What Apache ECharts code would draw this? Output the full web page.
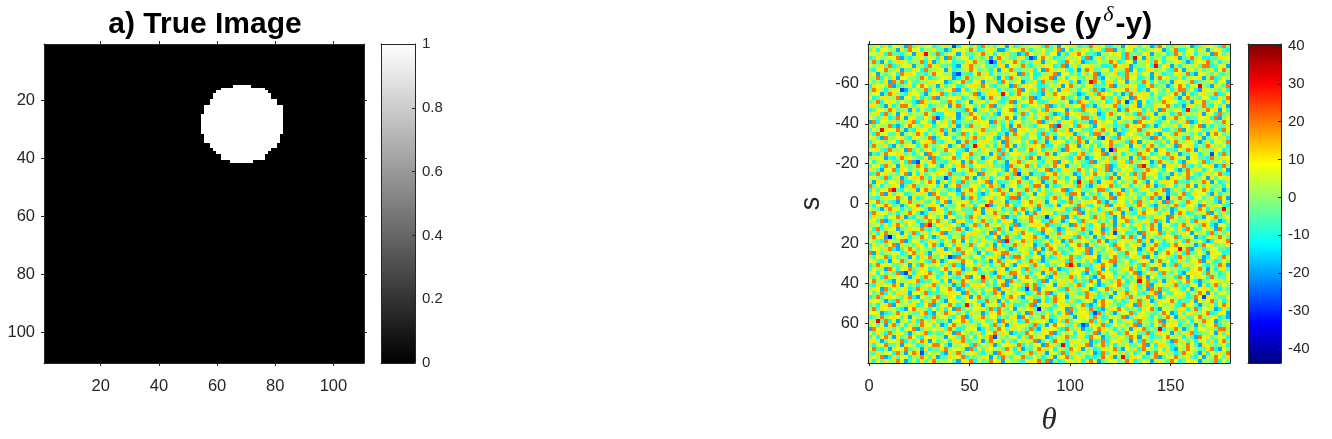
<!DOCTYPE html>
<html><head><meta charset="utf-8">
<style>html,body{margin:0;padding:0;background:#fff}#c{width:1332px;height:439px}</style>
<script src="https://cdn.jsdelivr.net/npm/echarts@6/dist/echarts.min.js"></script>
</head><body><div id="c"></div>
<script>
// a) True image: 110 x 110 binary, white disc given as [firstRow,lastRow,firstCol,lastCol]
const imageSize = 110;
const discSpans = [
 [15,15,66,71],[16,16,62,76],[17,17,60,77],[18,19,59,78],[20,21,58,80],[22,24,56,82],
 [25,31,55,82],[32,34,56,81],[35,36,58,80],[37,37,59,78],[38,38,60,77],[39,40,62,76],[41,41,65,72]
];
const imageTicks = [20,40,60,80,100];
const grayTicks = [0,0.2,0.4,0.6,0.8,1];
// b) Noise: estimated levels, one digit per cell, 2 degrees x 2 s units each
const noiseLevels = [-33,-27,-19,-11,-5,1,6,11,20,30];
const noiseRows = [
"556473665284756634575136647385546627345566738452665734487563355267746523864475562347665385",
"473665527486635574423766585346752246678535564478263557646738825467354566724583366475256743",
"665738443562776548356627445785636574423865574662537786443255676384546725563487466355728645",
"347556682435574663728456635547268654477352686534475663825746557384962745536672458563344776",
"584263577645583724656344768553627466853547725664386572344655873466255748635567423766845355",
"655748346672553867445326785564437726658435576634825746675533486772455638467253565748834662",
"436685572447638556627345786455362768445573628756643525874466375582634775564386256474573685",
"762545638776443586655274436857364556728463355782664537468255673485746627534467583266547445",
"558364726655487345667235845576642738564463577825636644758326557486634525867447356672583465",
"645472858364455776623568446725573864662457385546773624568537746625548736445276658345573662",
"376658244573686552745634677586435562847765334657268554673446825576633784552468736655427548",
"487535667246558374466827356475763544682657385462775536648324576685734266547358846327655473",
"566248754376642567835346658247775463586644327586665423574876635248567736445685273467558346",
"634775582664735482556673467425856347764582365576844635257684473562867545367742685546633758",
"458367646553287566448735625764674358256686434775562387645563478654726345587664352768456637",
"775426358864567345562784664537825566473466578235475668342576683546725447668534267558436472",
"346658745527364486675543862576473668255744638576625438767354562486673547285566374455867264",
"567384626745558643367725486554732666458364775423586674465237856645384762656348475572663845",
"654573486267446587355624768635447586263574658476325568847436552677548366425785634466738256",
"283665745578366426574835546766285473664557824653767354428656637545286674356447582365764586",
"746558324686547735664725385567446372685543766824556387642675534486768352465573764682535447",
"465376685243766455837246665784556348267657446385572664437586625347684566733548265674457386",
"538664472565873646725548364675763425866475383546677245638854662376545873266487554636278645",
"674285567437655824666357478546632785574466358725464783556267438655764428736655384672456573",
"356746638552467784356625843677546285664738452576635487264466875538726564473685576424736658",
"485573264766358545672468355764637486254577683365486725646357844562673785446528667354875563",
"667438556284647635586743256476558362744685635574286664537725486673455862764436587265547634",
"243586677453562876445637684556273846675534768525664378456682746355487634668572446735566384",
"576624358765447283566846735524678355647386245766543785236647485562738466534875626744385576",
"635757446382665784435762586447635526784665437582764654382567446738556624875463276658345647",
"466385627545873664256478536675744328566847354686725563447658236765486534627756843546672385",
"754266837645568435774265684735566427836554768243675586463758254667345876536642485773564462",
"348675546826374567658443576285663574865724436785565237468664527563848667355274686435756843",
"665483572467785364463756852647356684573266488574536625674453862675748556342766583456274667",
"527746658335646872564738455678263447685536724586646375584267736455864263577684436558726345",
"846355762478455663725684466537874256635748862534667485325766844673556872447635586264754536",
"374668543657268746553425786464738562655847364576823674456883566247357645682475364668735524",
"565827466345775286446638575324666847583562674455738862645367258746543668752446835766427355",
"443576685627346558764652487356747638825466553784672564358446827655637484266758543664573862",
"768454326685574463682566735446875624437685752664358546776832546647385564728365487646553274",
"536687452466835776254468573665247586346675854372665487436558267744686532574684376528557643",
"654258763547664286735564448627756354868463275566734824657356648572463768545236657486374465",
"387664535686423756648357446725685564736248576635447682645573866254378665467258734556826474",
"475536687243558664726645387465576824366785543466827356648574426875633547762864565342678456",
"664823554767345868564277436585463776245586634875246638567454726683556748362655473867644235",
"556374786465528346757642468358566473824567768344652857436685527364674585266437856548732664",
"738456624576684353667485246655738462775534686642375568447623586754364687255647386446572853",
"463685572648357466824553677546286355748664327558466743526684775634528566837445762656384547",
"586724466735586424673658745563472685436678542564775386462537664858362754476683556243675864",
"654387558246634775365862647475538264668573456376248556745862436675584726635647385564237668",
"375646827554763684256375584664726345857662448765536684274556387646752568433786655248674556",
"466578324687465536724685663547785642366548725864453676825546738655624786347664582573566443",
"827455663468574265776438655263467885546736246587345664827355764486635472568647384565276634",
"546683745526376854647285546637674253886456725347668435776254684536758264665438746552367486",
"674352668475564387246758663545268476635587424665738556473267884563466725856347546682753465",
"358766445627386556474832665746355864277648563546685724436786525574638466725483675664354872",
"465528736684576344685672458365747625663844577862345666835726445768536482766554437685263574",
"763645482573667854362584766445327658864536627485547663254876635546824657385463267764855346",
"546387566425748663575436826667458354276854663275568464732586647354687265445638726576385446",
"685743265576834467362758655484636728547665382646757354486265478635566843725764685324567756",
"437566872645356784655248367764536825674858346627554783664235768446735826657584436627358465",
"576284656734875463668523745546682775643458267664385547623668475536746285844675362567746354",
"645836477526658344567762854635487265766345858246637544876354626785643578264466735586274665",
"358467654783265568447635726854556378642674463587625566874345266748556837246657534862765446",
"766524385646637585426754666348572736554468273586647435652786645347585624766853447265684635",
"453678265577346824668535746725664857344682567536774568324686553476285764655743866425573687",
"584765643268755364736284556674838546265674754356628467584325768645537684266547735846652374",
"667234586654478326587646375524768654637285547463682566735847425668376544586237467556834662",
"345856764726553485664378246785663547728645586346755267648534665824767536458625744685567342",
"756483625647386574452668735564472865634857665237484665583746264576385546825674463658762455",
"564627846375586647236854575366484725766548352686644735276583465647825536486763545274668356",
"286755463668247565748534666237458647565483276664385572446876535462768454635586247366574885",
"647538566425678354467286545736685762344865576824656367458254673586644835766254678345562747",
"463685274586436675526748463657825546637485762356684475386624557648726534468657354286745663",
"775246658354687264563778445625866374365758246486537665724483667552638547664285746356473685",
"536684472765345688642556738465724667583546628754436576825684635574468263775346586427654563",
"684352766845627344785665283647656485372446875636548672553476684265738654647326586544783265",
"447566385268744656327584667435528766435684752664837546562384675746356248675534866427365758",
"565823746635586472447668354576263854768446535726684765343586725647763458246685574362558647",
"736475586246374685556427783645867265543676848253466573786245664587346625754863467625548364"
];
// sparse extreme cells, estimated: [row, column, level index]
const noiseExtremes = [
 [2,14,9],[3,40,1],[5,71,9],[7,22,1],[9,55,9],[11,8,1],[12,33,9],[14,64,1],[16,79,9],[18,17,1],
 [20,47,9],[21,3,9],[23,58,1],[25,26,9],[27,85,1],[29,12,1],[30,68,9],[32,37,1],[34,52,9],[36,6,9],
 [38,74,1],[40,29,9],[41,88,9],[43,44,1],[45,15,9],[47,61,1],[49,34,9],[51,77,9],[53,20,1],[55,50,9],
 [57,9,1],[59,67,9],[61,39,1],[63,83,1],[65,24,9],[67,56,1],[69,2,9],[71,72,9],[73,31,1],[75,48,9],
 [77,13,1],[78,63,9],[4,30,0],[26,60,0],[48,5,0],[66,42,0],[10,82,9],[33,19,1],[58,28,9],[70,53,1]
];
const noiseXTicks = [0,50,100,150];
const noiseYTicks = [-60,-40,-20,0,20,40,60];
const noiseBarTicks = [-40,-30,-20,-10,0,10,20,30,40];
const noiseRange = [-43.7,40.5];
const jetColors = ['#000080','#0000ff','#0080ff','#00ffff','#80ff80','#ffff00','#ff8000','#ff0000','#800000'];
const grayColors = ['#000000','#ffffff'];

const ink = '#262626';
const sans = '"Liberation Sans", Arial, sans-serif';
const serif = '"Liberation Serif", serif';

function inDisc(r,c){return discSpans.some(s=>r>=s[0]&&r<=s[1]&&c>=s[2]&&c<=s[3]);}
// custom-series cells: [xStart, xEnd, yStart, yEnd, value]
const imageData = [];
for(let r=1;r<=imageSize;r++)for(let c=1;c<=imageSize;c++)imageData.push([c-0.5,c+0.5,r-0.5,r+0.5,inDisc(r,c)?1:0]);
const extremeAt = {};
noiseExtremes.forEach(e=>{extremeAt[e[0]+'_'+e[1]]=e[2];});
const noiseData = [];
noiseRows.forEach((row,ri)=>{for(let ci=0;ci<90;ci++){
  const k=ri+'_'+ci, lvl=(k in extremeAt)?extremeAt[k]:+row[ci];
  noiseData.push([-0.5+2*ci,1.5+2*ci,-80+2*ri,-78+2*ri,noiseLevels[lvl]]);
}});
function barCells(lo,hi){
 const out=[],n=319;
 for(let i=0;i<n;i++){const a=lo+(hi-lo)*i/n,b=lo+(hi-lo)*(i+1)/n;out.push([0,1,a,b,(a+b)/2]);}
 return out;
}
const grayBar=barCells(0,1), jetBar=barCells(noiseRange[0],noiseRange[1]);

const grid=[
 {left:44,top:44,width:320,height:319,outerBoundsMode:'none'},
 {left:381,top:44,width:34,height:319,outerBoundsMode:'none'},
 {left:868,top:44,width:362,height:319,outerBoundsMode:'none'},
 {left:1248,top:44,width:33,height:319,outerBoundsMode:'none'}
];
const xAxis=[],yAxis=[];
const frameLine={show:true,onZero:false,lineStyle:{color:ink,width:1}};
function addImageAxes(g,xr,yr,xt,yt,xExtra,yExtra){
 const xi=xAxis.length,yi=yAxis.length;
 const mkX=(pos,lab)=>Object.assign({type:'value',z:5,gridIndex:g,position:pos,min:xr[0],max:xr[1],splitLine:{show:false},axisLine:frameLine,
   axisTick:{show:true,length:3,lineStyle:{color:ink},customValues:xt},
   axisLabel:{show:lab,customValues:xt,color:ink,fontFamily:sans,fontSize:16.5,margin:15}},lab?xExtra:{});
 const mkY=(pos,lab)=>Object.assign({type:'value',z:5,gridIndex:g,position:pos,inverse:true,min:yr[0],max:yr[1],splitLine:{show:false},axisLine:frameLine,
   axisTick:{show:true,length:3,lineStyle:{color:ink},customValues:yt},
   axisLabel:{show:lab,customValues:yt,color:ink,fontFamily:sans,fontSize:16.5,margin:9,padding:[3,0,0,0]}},lab?yExtra:{});
 xAxis.push(mkX('bottom',true),mkX('top',false));
 yAxis.push(mkY('left',true),mkY('right',false));
 return [xi,yi];
}
function addBarAxes(g,range,ticks){
 const xi=xAxis.length,yi=yAxis.length;
 const plain={type:'value',z:5,gridIndex:g,splitLine:{show:false},axisLine:frameLine,axisTick:{show:false},axisLabel:{show:false}};
 xAxis.push(Object.assign({},plain,{position:'bottom',min:0,max:1}),Object.assign({},plain,{position:'top',min:0,max:1}));
 yAxis.push(Object.assign({},plain,{position:'right',min:range[0],max:range[1],
   axisTick:{show:true,inside:true,length:3,lineStyle:{color:ink},customValues:ticks},
   axisLabel:{show:true,customValues:ticks,color:ink,fontFamily:sans,fontSize:15,margin:7,padding:[3,0,0,0]}}),
   Object.assign({},plain,{position:'left',min:range[0],max:range[1]}));
 return [xi,yi];
}
const a0=addImageAxes(0,[0.5,110.5],[0.5,110.5],imageTicks,imageTicks,{},{});
const a1=addBarAxes(1,[0,1],grayTicks);
const a2=addImageAxes(2,[-0.5,179.5],[-80,80],noiseXTicks,noiseYTicks,
  {name:'θ',nameLocation:'middle',nameGap:42,nameTextStyle:{fontFamily:serif,fontStyle:'italic',fontSize:31,color:ink}},
  {name:'s',nameLocation:'middle',nameGap:43,nameRotate:90,nameTextStyle:{fontFamily:sans,fontSize:27,color:ink}});
const a3=addBarAxes(3,noiseRange,noiseBarTicks);

function cell(params,api){
 const p0=api.coord([api.value(0),api.value(2)]), p1=api.coord([api.value(1),api.value(3)]);
 const x=Math.round(Math.min(p0[0],p1[0])), X=Math.round(Math.max(p0[0],p1[0]));
 const y=Math.round(Math.min(p0[1],p1[1])), Y=Math.round(Math.max(p0[1],p1[1]));
 return {type:'rect',shape:{x,y,width:X-x,height:Y-y},style:{fill:api.visual('color')}};
}
function cells(ax,data){return {type:'custom',xAxisIndex:ax[0],yAxisIndex:ax[1],data,renderItem:cell,
  encode:{x:[0,1],y:[2,3]},progressive:0,animation:false,silent:true,z:2};}
const titleStyle={fontFamily:sans,fontWeight:'bold',fontSize:30,color:'#000'};
const option={
 animation:false,
 backgroundColor:'#fff',
 title:[
  {text:'a) True Image',left:200,top:5,textAlign:'center',textStyle:titleStyle},
  {text:'{m|b) Noise (y}{d|δ}{m|-y)}',left:1045,top:-1,textAlign:'center',textStyle:Object.assign({},titleStyle,{rich:{
     m:{fontFamily:sans,fontWeight:'bold',fontSize:30,color:'#000',lineHeight:36,verticalAlign:'bottom'},
     d:{fontFamily:serif,fontStyle:'italic',fontWeight:'normal',fontSize:22,color:'#000',verticalAlign:'top',lineHeight:20,padding:[0,2,12,2]}
  }})}
 ],
 grid,xAxis,yAxis,
 visualMap:[
  {show:false,type:'continuous',seriesIndex:[0,1],min:0,max:1,dimension:4,inRange:{color:grayColors}},
  {show:false,type:'continuous',seriesIndex:[2,3],min:noiseRange[0],max:noiseRange[1],dimension:4,inRange:{color:jetColors}}
 ],
 series:[cells(a0,imageData),cells(a1,grayBar),cells(a2,noiseData),cells(a3,jetBar)]
};
echarts.init(document.getElementById('c'),null,{renderer:'canvas'}).setOption(option);
</script></body></html>
